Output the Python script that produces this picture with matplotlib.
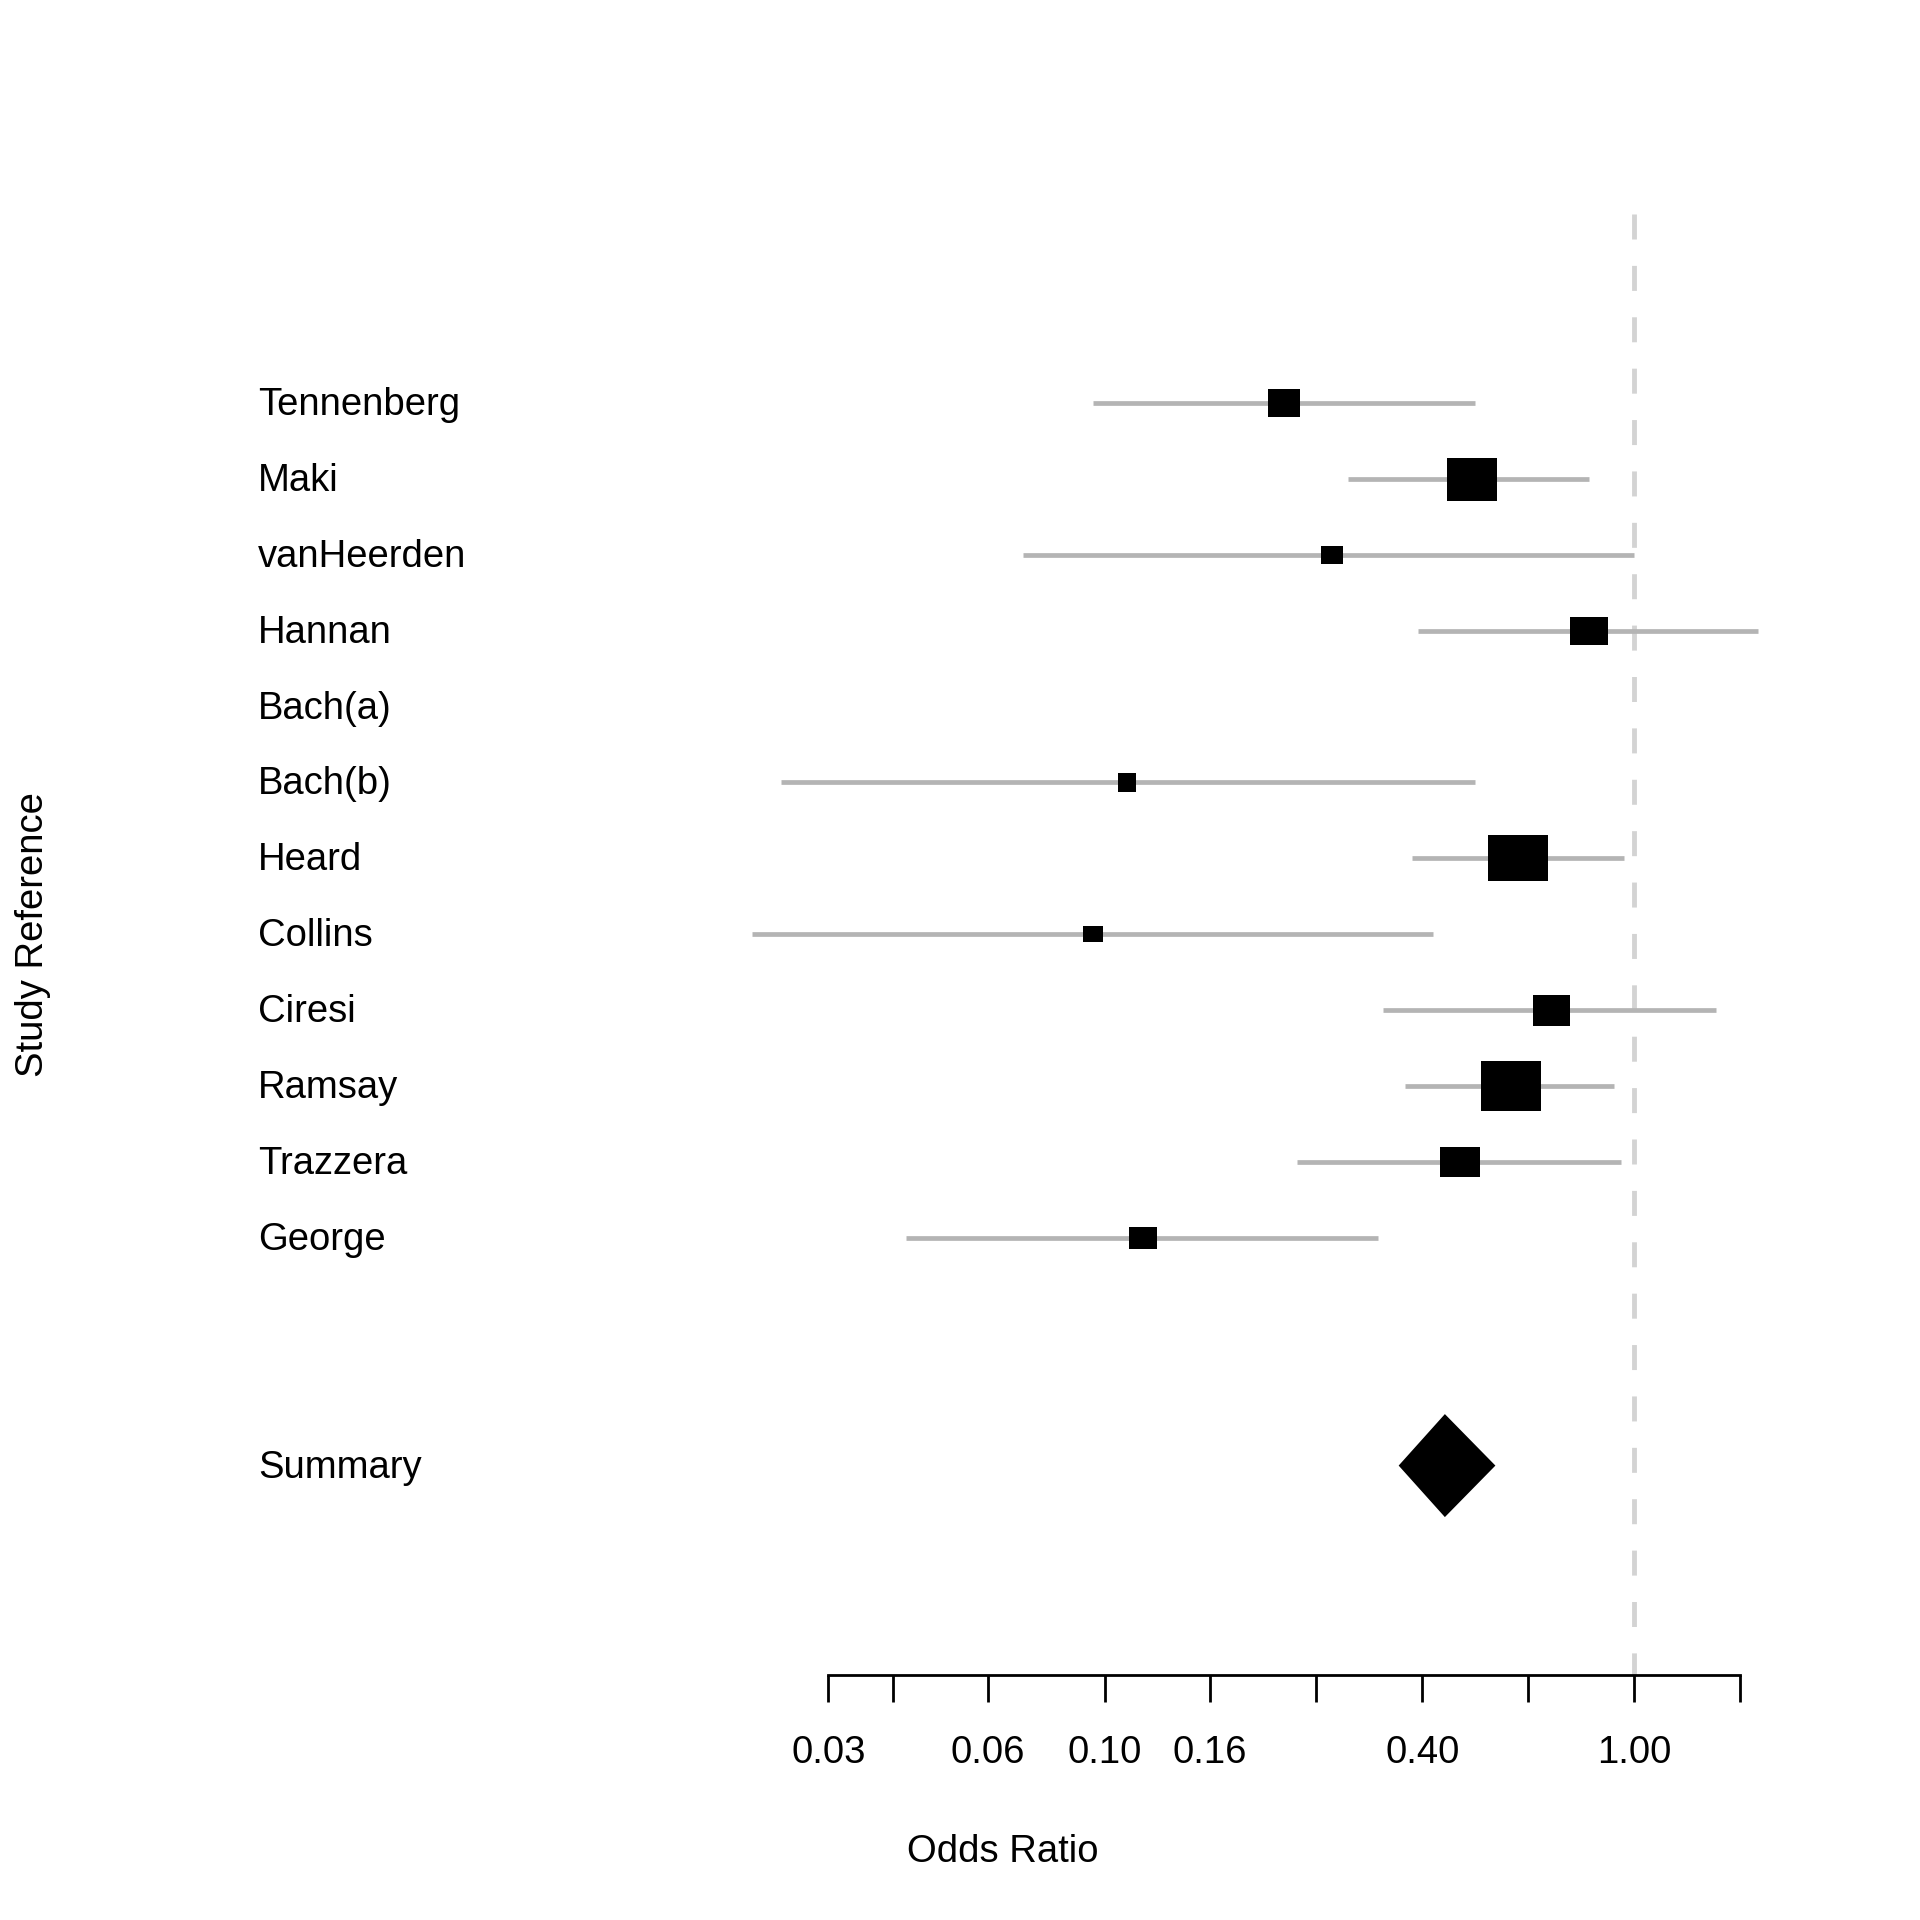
import numpy as np
import matplotlib
matplotlib.use("Agg")
import matplotlib.pyplot as plt
from matplotlib.path import Path
from matplotlib.transforms import blended_transform_factory, offset_copy

# study data (odds ratio with 95% CI)
studies = ["Tennenberg", "Maki", "vanHeerden", "Hannan", "Bach(a)", "Bach(b)",
           "Heard", "Collins", "Ciresi", "Ramsay", "Trazzera", "George"]
odds = [0.218, 0.493, 0.269, 0.823, np.nan, 0.110, 0.603, 0.095, 0.697, 0.586, 0.469, 0.118]
lower = [0.095, 0.288, 0.070, 0.391, np.nan, 0.0244, 0.380, 0.0215, 0.336, 0.369, 0.231, 0.042]
upper = [0.500, 0.823, 1.000, 1.715, np.nan, 0.500, 0.957, 0.417, 1.432, 0.918, 0.943, 0.328]

summary_label = "Summary"
summary_or = 0.439
summary_lo = 0.359
summary_hi = 0.547

tick_vals = [0.03, 0.0398, 0.06, 0.10, 0.158, 0.251, 0.398, 0.631, 1.00, 1.585]
tick_labels = ["0.03", "", "0.06", "0.10", "0.16", "", "0.40", "", "1.00", ""]

# box sizes in pixels (width, height) - the study weights
box_w = [32, 50, 21.5, 37.4, 0, 18.5, 59.3, 19.2, 37, 59.6, 39.7, 27.6]
box_h = [28, 43, 19, 28, 0, 19, 46.7, 15.7, 31, 49.3, 30.7, 21.3]

plt.rcParams['font.family'] = ['Liberation Sans', 'DejaVu Sans']
plt.rcParams['lines.scale_dashes'] = False
FS = 27.5
W = 1920.0

fig = plt.figure(figsize=(19.2, 19.2), dpi=100)
# axes in pixel terms: left 700, right 1800, top 214, bottom 1675
ax = fig.add_axes([700 / W, (W - 1675) / W, 1100 / W, (1675 - 214) / W])
ax.set_xscale("log")
ax.set_xlim(0.01715, 2.0598)
ytop, ybot = -2.490, 16.759
ax.set_ylim(ybot, ytop)

# reference line at OR = 1
ax.plot([1.0, 1.0], [ytop, ybot], color="#d3d3d3", lw=3.5,
        linestyle=(0, (18, 19)), solid_capstyle="butt", zorder=1)

rows = np.arange(len(studies))
for i in rows:
    if np.isnan(odds[i]):
        continue
    ax.plot([lower[i], upper[i]], [i, i], color="#b4b4b4", lw=3.4,
            solid_capstyle="butt", zorder=2)
    w, h = box_w[i] / 2, box_h[i] / 2
    box = Path([(-w, -h), (w, -h), (w, h), (-w, h), (-w, -h)],
               [Path.MOVETO, Path.LINETO, Path.LINETO, Path.LINETO, Path.CLOSEPOLY])
    ax.plot([odds[i]], [i], marker=box, markersize=max(box_w[i], box_h[i]) * 0.72,
            color="black", mew=0, linestyle="none", zorder=3)

# summary diamond
srow = len(studies) + 2
dh = 103 / 75.9 / 2
ax.fill([summary_lo, summary_or, summary_hi, summary_or],
        [srow, srow - dh, srow, srow + dh], color="black", lw=0, zorder=3)

# study labels
trans = offset_copy(blended_transform_factory(fig.transFigure, ax.transData),
                    fig=fig, x=0, y=-12, units="dots")
for i, name in enumerate(studies):
    fig.text(258 / W, i, name, transform=trans, fontsize=FS, va="baseline", ha="left")
fig.text(258 / W, srow, summary_label, transform=trans, fontsize=FS, va="baseline", ha="left")

# axis styling
for side in ["top", "right", "left"]:
    ax.spines[side].set_visible(False)
ax.spines["bottom"].set_bounds(tick_vals[0], tick_vals[-1])
ax.spines["bottom"].set_linewidth(2)
ax.set_xticks(tick_vals)
ax.set_xticklabels(tick_labels)
ax.xaxis.set_minor_locator(matplotlib.ticker.NullLocator())
ax.tick_params(axis="x", length=19.5, width=2, pad=24, labelsize=FS)
ax.set_yticks([])

fig.text(1003 / W, (W - 1862) / W, "Odds Ratio", fontsize=FS, ha="center", va="baseline")
fig.text(43 / W, (W - 935) / W, "Study Reference", fontsize=FS, rotation=90,
         rotation_mode="anchor", ha="center", va="baseline")

fig.savefig("out.png", dpi=100, facecolor="white")
